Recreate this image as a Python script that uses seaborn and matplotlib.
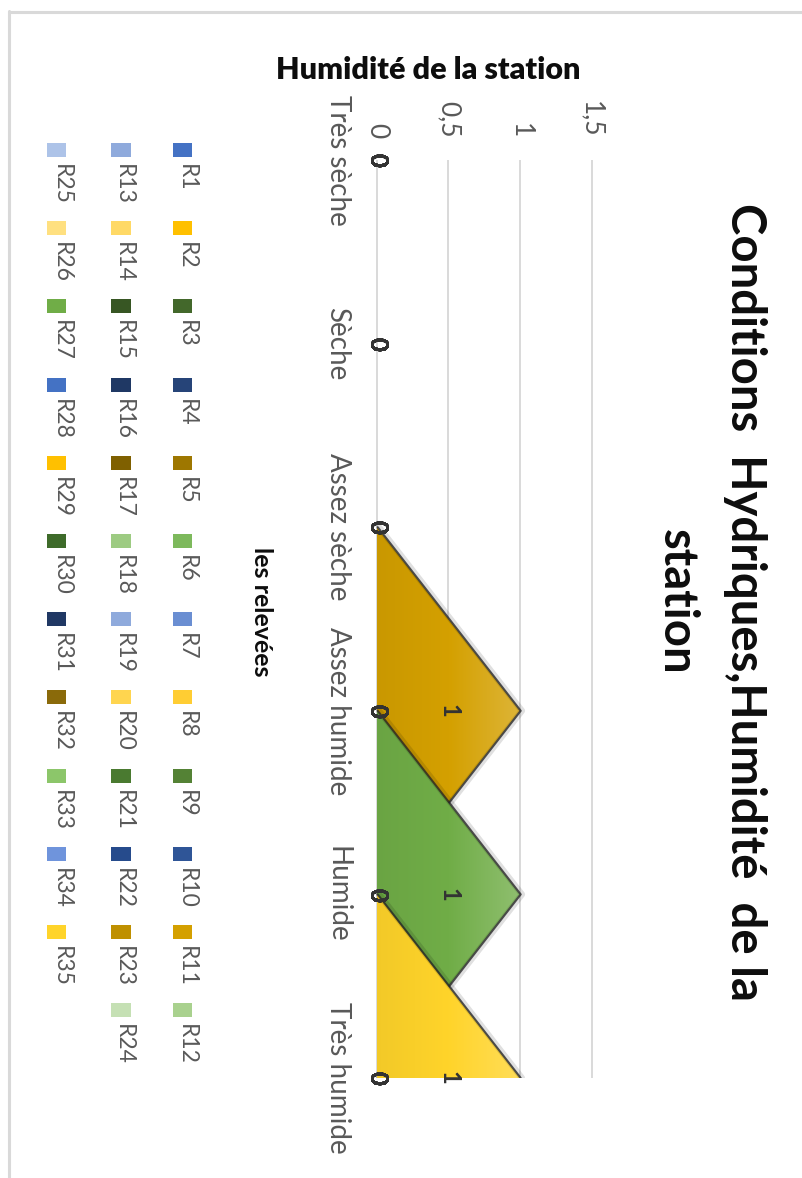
import numpy as np
import matplotlib
matplotlib.use("Agg")
import matplotlib.pyplot as plt
import seaborn as sns
from matplotlib.colors import LinearSegmentedColormap, to_rgb
from matplotlib.patches import Rectangle
from matplotlib.lines import Line2D

# ---------------- data ----------------
categories = ["Très sèche", "Sèche", "Assez sèche", "Assez humide", "Humide", "Très humide"]
series_names = [f"R{i}" for i in range(1, 36)]
r11_values = [0, 0, 0, 1, 0, 0]
r27_values = [0, 0, 0, 0, 1, 0]
r35_values = [0, 0, 0, 0, 0, 1]
zero_values = [0, 0, 0, 0, 0, 0]
value_ticks = [0, 0.5, 1, 1.5]
value_tick_labels = ["0", "0,5", "1", "1,5"]
series_colors = [
    "#4472C4", "#FFC000", "#43682B", "#264478", "#9E7700", "#7DB95C",
    "#6A8ED2", "#FFCD33", "#548235", "#2F5597", "#D4A000", "#A9D18E",
    "#8FAADC", "#FFD966", "#375623", "#1F3864", "#7F6000", "#9DCB82",
    "#8FAADC", "#FFD54F", "#4A7A30", "#264B8C", "#BF9000", "#C5E0B4",
    "#ADC3E8", "#FFE080", "#70AD47", "#4472C4", "#FFC000", "#3E6B2A",
    "#203864", "#8A6A0A", "#8CC66A", "#6F94DC", "#FFD42A",
]
series_values = {name: zero_values for name in series_names}
series_values["R11"] = r11_values
series_values["R27"] = r27_values
series_values["R35"] = r35_values

title_text = "Conditions  Hydriques,Humidité  de la\nstation"
value_axis_title = "Humidité de la station"
legend_title = "les relevées"

# ---------------- style ----------------
sns.set_style("white")
plt.rcParams["font.family"] = ["Lato", "DejaVu Sans"]

W, H = 803, 1178
fig = plt.figure(figsize=(W / 100, H / 100), dpi=100)
fig.patch.set_facecolor("white")


def fx(x):
    return x / W


def fy(y):
    return 1 - y / H


# axes geometry (value axis horizontal, categories vertical)
px_per_unit = 143.0
x0_px = 377.0
xmin, xmax = -0.01, 1.51
left_px = x0_px + xmin * px_per_unit
right_px = x0_px + xmax * px_per_unit
top_px, bottom_px = 160.0, 1078.0
ax = fig.add_axes([fx(left_px), fy(bottom_px), (right_px - left_px) / W, (bottom_px - top_px) / H])
ax.set_facecolor("none")

pos = np.arange(len(categories))


def shade(c, f):
    r = np.array(to_rgb(c))
    if f >= 0:
        return tuple(r + (1 - r) * f)
    return tuple(r * (1 + f))


for k, name in enumerate(series_names):
    v = np.array(series_values[name], dtype=float)
    z = 3 + k * 0.1
    if v.max() <= 0:
        continue
    poly = ax.fill_betweenx(pos, 0, v, facecolor="none", edgecolor="none", zorder=z)
    clip_path = poly.get_paths()[0]
    cmap = LinearSegmentedColormap.from_list(
        name, [shade(series_colors[k], -0.05), series_colors[k], shade(series_colors[k], 0.22)])
    grad = np.linspace(0, 1, 256).reshape(1, -1)
    im = ax.imshow(grad, cmap=cmap, extent=(0, v.max(), len(categories) - 1, 0),
                   aspect="auto", zorder=z, interpolation="bilinear")
    im.set_clip_path(clip_path, transform=ax.transData)
    # outline (shadow edge) along the non-zero part
    keep = [i for i in range(len(v))
            if v[i] != 0 or (i > 0 and v[i - 1] != 0) or (i < len(v) - 1 and v[i + 1] != 0)]
    xs = v[keep]
    ys = pos[keep].astype(float)
    sns.lineplot(x=xs + 0.014, y=ys, orient="y", sort=False, estimator=None,
                 color="#000000", lw=4.5, alpha=0.12, ax=ax, zorder=z + 0.01)
    sns.lineplot(x=xs + 0.005, y=ys, orient="y", sort=False, estimator=None,
                 color="#262626", lw=1.5, alpha=0.8, ax=ax, zorder=z + 0.02)

# data labels (all series)
for k, name in enumerate(series_names):
    v = series_values[name]
    for j, val in enumerate(v):
        ax.text(val / 2, j, f"{val}", rotation=270, ha="center", va="center",
                fontsize=17, fontweight="bold", color="#333333", zorder=50)

ax.set_xlim(xmin, xmax)
ax.set_ylim(len(categories) - 1, 0)
ax.set_xlabel("")
ax.set_ylabel("")
for s in ax.spines.values():
    s.set_visible(False)
ax.set_xticks(value_ticks)
ax.set_xticklabels(value_tick_labels)
ax.xaxis.tick_top()
ax.grid(axis="x", color="#D9D9D9", lw=1.4, zorder=0)
ax.grid(axis="y", visible=False)
ax.set_axisbelow(True)
ax.tick_params(axis="x", length=0, pad=16, labelsize=19, labelcolor="#595959")
for t in ax.get_xticklabels():
    t.set_rotation(270)
    t.set_ha("center")
    t.set_va("bottom")
ax.set_yticks(pos)
ax.set_yticklabels(categories)
ax.tick_params(axis="y", length=0, pad=18, labelsize=20, labelcolor="#595959")
for t in ax.get_yticklabels():
    t.set_rotation(270)
    t.set_ha("right")
    t.set_va("center")

# titles
fig.text(fx(711), fy(602), title_text, rotation=270, ha="center", va="center",
         multialignment="center", fontsize=34, fontweight="bold", color="#0D0D0D",
         linespacing=1.65)
fig.text(fx(428), fy(70), value_axis_title, ha="center", va="center",
         fontsize=22, fontweight="heavy", color="#0D0D0D")
fig.text(fx(262), fy(612), legend_title, rotation=270, ha="center", va="center",
         fontsize=18, fontweight="bold", color="#0D0D0D")

# legend (manual, rotated layout)
marker_cx = [183, 121, 57]
label_cx = [186, 123, 61]
for k, name in enumerate(series_names):
    col, row = divmod(k, 12)
    cy = 150 + 78.2 * row
    mw, mh = 19, 14
    fig.add_artist(Rectangle((fx(marker_cx[col] - mw / 2), fy(cy + mh / 2)), mw / W, mh / H,
                             transform=fig.transFigure, facecolor=series_colors[k],
                             edgecolor="none"))
    fig.text(fx(label_cx[col]), fy(cy + 14), name, rotation=270, ha="center", va="top",
             fontsize=16.5, color="#595959")

# chart border
fig.add_artist(Line2D([fx(9.5), fx(9.5)], [fy(11), 0], transform=fig.transFigure,
                      color="#D9D9D9", lw=2.2))
fig.add_artist(Line2D([fx(8.5), 1], [fy(11.5), fy(11.5)], transform=fig.transFigure,
                      color="#D9D9D9", lw=2.2))

fig.savefig("out.png", dpi=100, facecolor="white")
